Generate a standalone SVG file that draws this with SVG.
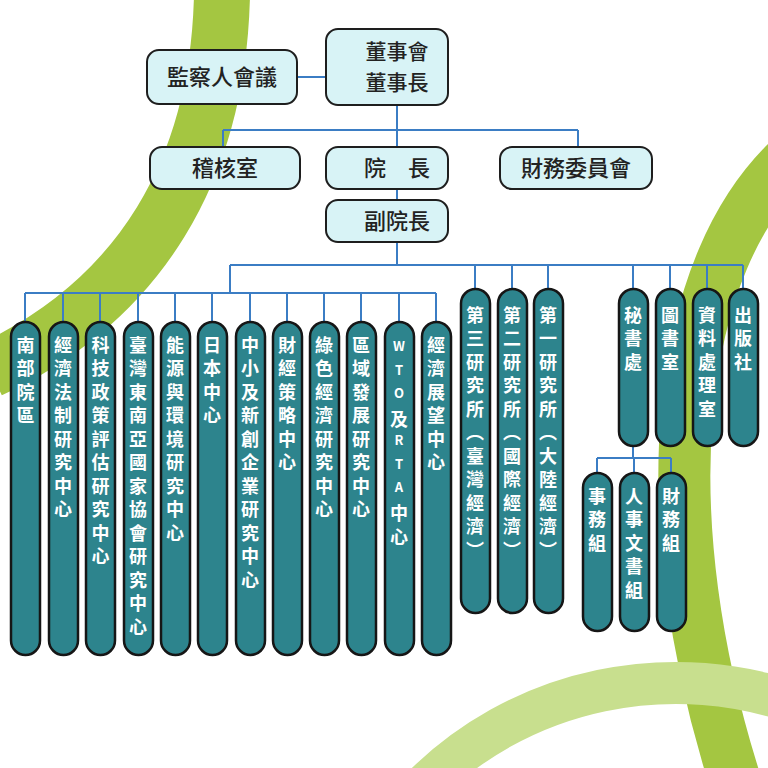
<svg xmlns="http://www.w3.org/2000/svg" width="768" height="768" viewBox="0 0 768 768">
<style>
.box{fill:#d8f3f6;stroke:#1e1e1e;stroke-width:2}
.pill{fill:#2d848d;stroke:#161616;stroke-width:2.5}
.bt{font-family:"Noto Sans CJK TC","Noto Sans CJK SC",sans-serif;font-size:22px;font-weight:500;fill:#222;text-anchor:middle}
.bt2{font-size:21px}
.vt{font-family:"Noto Sans CJK TC","Noto Sans CJK SC",sans-serif;font-size:18px;font-weight:bold;fill:#fff;writing-mode:vertical-rl;text-orientation:upright;letter-spacing:5.5px}
.lat{font-size:13px;letter-spacing:10.5px}
.c{fill:none;stroke:#3b7dc4;stroke-width:2}
</style>
<rect width="768" height="768" fill="#fff"/>
<g id="bg" fill="none">
<path d="M222,-5 C218,170 140,300 -10,370" stroke="#a4c641" stroke-width="56"/>
<path d="M800,150 C670,260 650,520 738,790" stroke="#a4c641" stroke-width="52"/>
<path d="M410,800 C520,680 680,660 800,705" stroke="#c8df8e" stroke-width="42"/>
</g>
<g id="connectors" class="c">
<path d="M297,77H326M397,105V147M223,130H578M223,130V147M578,130V147M397,189V200M397,242V265M230,265H743M230,265V293M25,293H436"/>
<path d="M25,293V322M63,293V322M100,293V322M138,293V322M175,293V322M212,293V322M250,293V322M287,293V322M324,293V322M361,293V322M399,293V322M436,293V322"/>
<path d="M475,265V289M512,265V289M548,265V289M633,265V289M670,265V289M707,265V289M743,265V289"/>
<path d="M633,446V458M597,458H671M597,458V473M634,458V473M671,458V473"/>
</g>
<g id="n-jiancha"><rect class="box" x="147" y="50" width="150" height="54" rx="12"/><text class="bt" x="222" y="85">監察人會議</text></g>
<g id="n-dongshi"><rect class="box" x="326" y="29" width="122" height="76" rx="12"/><text class="bt bt2" x="397" y="59">董事會</text><text class="bt bt2" x="397" y="90">董事長</text></g>
<g id="n-jihe"><rect class="box" x="150" y="147" width="150" height="42" rx="12"/><text class="bt" x="225" y="176">稽核室</text></g>
<g id="n-yuanzhang"><rect class="box" x="326" y="147" width="122" height="42" rx="12"/><text class="bt" x="397" y="176" xml:space="preserve">院　長</text></g>
<g id="n-caiwu"><rect class="box" x="500" y="147" width="152" height="42" rx="12"/><text class="bt" x="576" y="176">財務委員會</text></g>
<g id="n-fu"><rect class="box" x="326" y="200" width="122" height="42" rx="12"/><text class="bt" x="397" y="229">副院長</text></g>
<g id="p1"><rect class="pill" x="11" y="322" width="29" height="333" rx="14.5"/><text class="vt" x="25.5" y="336">南部院區</text></g>
<g id="p2"><rect class="pill" x="49" y="322" width="29" height="333" rx="14.5"/><text class="vt" x="63" y="336">經濟法制研究中心</text></g>
<g id="p3"><rect class="pill" x="86" y="322" width="29" height="333" rx="14.5"/><text class="vt" x="100.5" y="336">科技政策評估研究中心</text></g>
<g id="p4"><rect class="pill" x="124" y="322" width="29" height="333" rx="14.5"/><text class="vt" x="138" y="336">臺灣東南亞國家協會研究中心</text></g>
<g id="p5"><rect class="pill" x="161" y="322" width="29" height="333" rx="14.5"/><text class="vt" x="175" y="336">能源與環境研究中心</text></g>
<g id="p6"><rect class="pill" x="198" y="322" width="29" height="333" rx="14.5"/><text class="vt" x="212" y="336">日本中心</text></g>
<g id="p7"><rect class="pill" x="236" y="322" width="29" height="333" rx="14.5"/><text class="vt" x="250" y="336">中小及新創企業研究中心</text></g>
<g id="p8"><rect class="pill" x="273" y="322" width="29" height="333" rx="14.5"/><text class="vt" x="287" y="336">財經策略中心</text></g>
<g id="p9"><rect class="pill" x="310" y="322" width="29" height="333" rx="14.5"/><text class="vt" x="324" y="336">綠色經濟研究中心</text></g>
<g id="p10"><rect class="pill" x="347" y="322" width="29" height="333" rx="14.5"/><text class="vt" x="361" y="336">區域發展研究中心</text></g>
<g id="p11"><rect class="pill" x="385" y="322" width="29" height="333" rx="14.5"/><text class="vt" x="399" y="340"><tspan class="lat">WTO</tspan>及<tspan class="lat">RTA</tspan>中心</text></g>
<g id="p12"><rect class="pill" x="422" y="322" width="29" height="333" rx="14.5"/><text class="vt" x="436" y="336">經濟展望中心</text></g>
<g id="r1"><rect class="pill" x="461" y="289" width="29" height="324" rx="14.5"/><text class="vt" x="475" y="306">第三研究所（臺灣經濟）</text></g>
<g id="r2"><rect class="pill" x="498" y="289" width="29" height="324" rx="14.5"/><text class="vt" x="512" y="306">第二研究所（國際經濟）</text></g>
<g id="r3"><rect class="pill" x="534" y="289" width="29" height="324" rx="14.5"/><text class="vt" x="548" y="306">第一研究所（大陸經濟）</text></g>
<g id="s1"><rect class="pill" x="619" y="289" width="29" height="157" rx="14.5"/><text class="vt" x="633" y="306">秘書處</text></g>
<g id="s2"><rect class="pill" x="656" y="289" width="29" height="157" rx="14.5"/><text class="vt" x="670" y="306">圖書室</text></g>
<g id="s3"><rect class="pill" x="693" y="289" width="29" height="157" rx="14.5"/><text class="vt" x="707" y="306">資料處理室</text></g>
<g id="s4"><rect class="pill" x="729" y="289" width="29" height="157" rx="14.5"/><text class="vt" x="743" y="306">出版社</text></g>
<g id="t1"><rect class="pill" x="583" y="473" width="29" height="158" rx="14.5"/><text class="vt" x="597" y="487">事務組</text></g>
<g id="t2"><rect class="pill" x="620" y="473" width="29" height="158" rx="14.5"/><text class="vt" x="634" y="487">人事文書組</text></g>
<g id="t3"><rect class="pill" x="657" y="473" width="29" height="158" rx="14.5"/><text class="vt" x="671" y="487">財務組</text></g>
</svg>
